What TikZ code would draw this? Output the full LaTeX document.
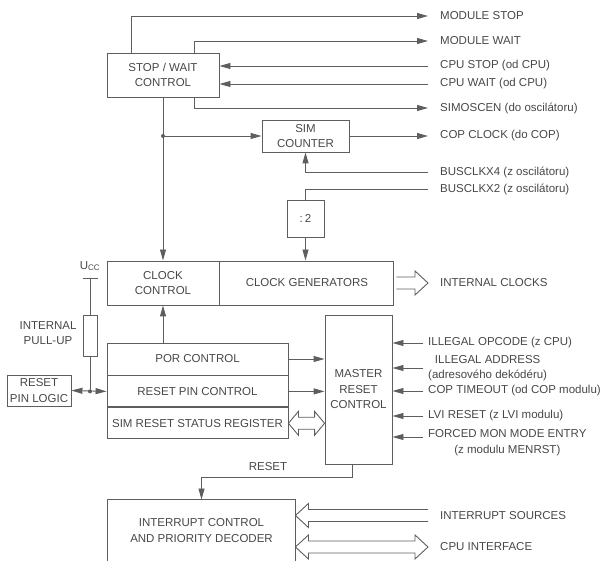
\documentclass[tikz,border=0pt]{standalone}
\usepackage{fontspec}
\setsansfont{Liberation Sans}
\usetikzlibrary{positioning, arrows.meta, calc}
\definecolor{linegray}{HTML}{5E5E5E}
\definecolor{textgray}{HTML}{474747}

\begin{document}
\begin{tikzpicture}[x=1pt, y=-1pt,
  every node/.style={font=\sffamily\fontsize{11.5}{15.5}\selectfont, text=textgray},
  block/.style={draw=linegray, line width=0.9pt, inner sep=0pt, align=center},
  sigtext/.style={anchor=west, inner xsep=12pt, inner ysep=0pt},
  intext/.style={anchor=west, inner xsep=5pt, inner ysep=0pt, align=center},
  wire/.style={draw=linegray, line width=0.9pt},
  arrow/.style={wire, -{Triangle[length=11pt, width=6pt]}},
  fatR/.style={to path={let \p1=(\tikztostart), \p2=(\tikztotarget) in
    (\x1,\y1+6pt) -- (\x2-13pt,\y1+6pt) -- (\x2-13pt,\y1+12pt) -- (\x2,\y1)
    -- (\x2-13pt,\y1-12pt) -- (\x2-13pt,\y1-6pt) -- (\x1,\y1-6pt)}},
  fatL/.style={to path={let \p1=(\tikztostart), \p2=(\tikztotarget) in
    (\x1,\y1+6pt) -- (\x2+13pt,\y1+6pt) -- (\x2+13pt,\y1+12pt) -- (\x2,\y1)
    -- (\x2+13pt,\y1-12pt) -- (\x2+13pt,\y1-6pt) -- (\x1,\y1-6pt)}},
  fatLR/.style={to path={let \p1=(\tikztostart), \p2=(\tikztotarget) in
    (\x1,\y1) -- (\x1+#1,\y1+12pt) -- (\x1+#1,\y1+6pt) -- (\x2-#1,\y1+6pt)
    -- (\x2-#1,\y1+12pt) -- (\x2,\y1) -- (\x2-#1,\y1-12pt) -- (\x2-#1,\y1-6pt)
    -- (\x1+#1,\y1-6pt) -- (\x1+#1,\y1-12pt) -- cycle}},
  fatLR/.default=13pt
]
\useasboundingbox (0,0) rectangle (606,561);

% Blocks
\node[block, minimum width=112pt, minimum height=44pt] (sw) at (163,75) {STOP / WAIT\\CONTROL};
\node[block, minimum width=87pt, minimum height=32pt] (simcnt) at (305.5,136) {SIM\\COUNTER};
\node[block, minimum size=37pt] (div2) at (305.5,218.5) {:\,2};
\node[block, minimum width=112pt, minimum height=44pt] (clkctl) at (163,283) {CLOCK\\CONTROL};
\node[block, minimum width=174pt, minimum height=44pt, right=0pt of clkctl] (clkgen) {CLOCK GENERATORS};
\node[block, minimum width=181pt, minimum height=32pt] (por) at (197.5,359) {POR CONTROL};
\node[block, minimum width=181pt, minimum height=31pt, below=0pt of por] (rpin) {RESET PIN CONTROL};
\node[block, minimum width=181pt, minimum height=31pt, below=0pt of rpin] (srsr) {SIM RESET STATUS REGISTER};
\node[block, minimum width=67pt, minimum height=149pt] (mrc) at (358.5,389.5) {MASTER\\RESET\\CONTROL};
\node[block, minimum width=64pt, minimum height=31pt] (rpl) at (39,390.5) {RESET\\PIN LOGIC};
\node[block, minimum width=14pt, minimum height=41pt] (res) at (90,335.5) {};
\node[align=center] (pullup) at (48,333) {INTERNAL\\PULL-UP};
\node (ucc) at (90,266) {U\textsubscript{CC}};
\coordinate (vcc) at (90,278);
\node[block, draw=none, minimum width=187pt, minimum height=61pt] (intr) at (201.5,530.5) {INTERRUPT CONTROL\\AND PRIORITY DECODER};
\draw[wire] (intr.south west) |- (intr.north east) -- (intr.south east);

% Signal labels
\node[sigtext] (mstop) at (428,16) {MODULE STOP};
\node[sigtext] (mwait) at (428,41) {MODULE WAIT};
\node[sigtext] (cpustop) at (428,66) {CPU STOP (od CPU)};
\node[sigtext] (cpuwait) at (428,84) {CPU WAIT (od CPU)};
\node[sigtext] (simosc) at (428,108) {SIMOSCEN (do oscilátoru)};
\node[sigtext] (copclk) at (428,136) {COP CLOCK (do COP)};
\node[sigtext] (bus4) at (428,172) {BUSCLKX4 (z oscilátoru)};
\node[sigtext] (bus2) at (428,189) {BUSCLKX2 (z oscilátoru)};
\node[sigtext] (intclk) at (428,283) {INTERNAL CLOCKS};
\node[sigtext] (intsrc) at (428,515.5) {INTERRUPT SOURCES};
\node[sigtext] (cpuif) at (428,547) {CPU INTERFACE};
\node[intext] (opcode) at (423,343) {ILLEGAL OPCODE (z CPU)};
\node[intext] (illaddr) at (423,368) {ILLEGAL ADDRESS\\(adresového dekódéru)};
\node[intext] (coptime) at (423,391) {COP TIMEOUT (od COP modulu)};
\node[intext] (lvi) at (423,416) {LVI RESET (z LVI modulu)};
\node[intext] (forced) at (423,442.5) {FORCED MON MODE ENTRY\\(z modulu MENRST)};
\node (rstlbl) at (268,467) {RESET};

% Arrows
\draw[arrow] ([xshift=25pt]sw.north west) |- (mstop.west);
\draw[arrow] ([xshift=-25pt]sw.north east) |- (mwait.west);
\draw[arrow] (cpustop.west) -- (cpustop.west -| sw.east);
\draw[arrow] (cpuwait.west) -- (cpuwait.west -| sw.east);
\draw[arrow] ([xshift=-25pt]sw.south east) |- (simosc.west);
\draw[arrow] (sw) -- (clkctl);
\coordinate (br) at (sw.south |- simcnt.west);
\draw[arrow] (br) -- (simcnt.west);
\fill[linegray] (br) circle (2pt);
\draw[arrow] (simcnt.east) -- (copclk.west);
\draw[arrow] (bus4.west) -| (simcnt.south);
\draw[wire] (bus2.west) -| (div2.north);
\draw[arrow] (div2.south) -- (div2.south |- clkgen.north);
\draw[wire, fatR] ([xshift=2pt]clkgen.east) to (intclk.west);
\draw[arrow] (por.north -| clkctl.south) -- (clkctl.south);
\draw[arrow] (por.east) -- (por.east -| mrc.west);
\draw[arrow] (rpin.east) -- (rpin.east -| mrc.west);
\draw[wire, fatLR=10pt] (srsr.east) to (srsr.east -| mrc.west);
\foreach \n in {opcode, illaddr, coptime, lvi}
  \draw[arrow] (\n.west) -- (\n.west -| mrc.east);
\coordinate (fmm) at ([yshift=5.5pt]forced.west);
\draw[arrow] (fmm) -- (fmm -| mrc.east);
\coordinate (rstbend) at (352.5,477);
\draw[arrow] ([xshift=-6pt]mrc.south) -- (rstbend) -| (intr.north);
\draw[wire, fatL] (intsrc.west) to (intsrc.west -| intr.east);
\draw[wire, fatLR] (intr.east |- cpuif.west) to (cpuif.west);

% Pull-up
\draw[wire] ([xshift=-7.5pt]vcc) -- ([xshift=7.5pt]vcc);
\draw[wire] (vcc) -- (res.north);
\coordinate (jn) at (res.south |- rpin.west);
\draw[wire] (res.south) -- (jn);
\draw[wire, {Triangle[length=11pt, width=6pt]}-{Triangle[length=11pt, width=6pt]}] (rpl.east) -- (rpin.west);
\fill[linegray] (jn) circle (2pt);

\end{tikzpicture}
\end{document}
